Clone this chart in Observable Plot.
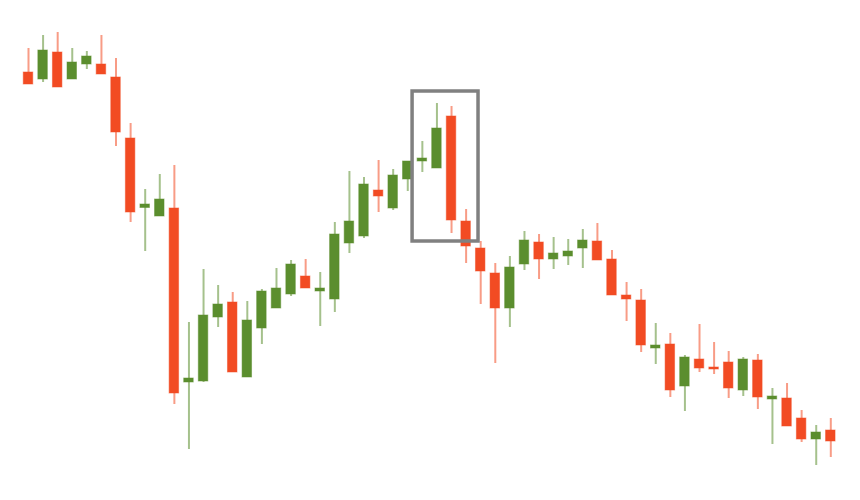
<!DOCTYPE html>
<html>
<head>
<meta charset="utf-8">
<script src="https://cdn.jsdelivr.net/npm/d3@7"></script>
<script src="https://cdn.jsdelivr.net/npm/@observablehq/plot@0.6"></script>
<style>
  html, body { margin: 0; padding: 0; background: #fff; }
  #chart svg { display: block; }
</style>
</head>
<body>
<div id="chart"></div>
<script>
// Candle values (arbitrary price units)
const open  = [428,421,448,421,436,436,423,362,292.5,284,292,118,119,183,198,123,172,192,206,224,209,201,257,264,310,292,321,339,332,384,279,252,227,192,236,258,241,244,252,259,241,205,200,152,156,114,141,133,138,110,140,101,102,82,61,70];
const close = [416,450,413,438,444,426,368,288,296,301,107,122,185,196,128,180,209,212,236,212,212,266,279,316,304,325,339,342,372,280,254,229,192,233,260,241,247,249,260,240,205,201,155,155,110,143,132,131,112,141,103,104,74,61,68,59];
const high  = [452,465,468,452,449,465,442,377,311,326,335,178,231,215,208,199,211,232,240,241,228,278,329,323,340,331,339,359,397,394,291,259,237,244,269,266,263,261,271,277,250,218,211,177,167,145,176,158,149,143,146,112,117,90,75,82];
const low   = [416,418,413,421,431,426,354,278,249,284,96,51,118,173,128,123,156,192,204,212,174,188,247,262,288,290,309,328,332,267,237,196,137,173,230,221,231,235,232,240,205,179,148,136,103,89,128,126,102,104,91,56,74,58,35,43];
// Highlighted region (candle-index span and price span)
const highlight = [{from: 26.33, to: 30.85, top: 409, bottom: 259}];

const candles = open.map((o, i) => ({i, open: o, close: close[i], high: high[i], low: low[i]}));
const up = "#5b8e2e", down = "#f24b23";
const col = d => d.close >= d.open ? up : down;
const half = 0.325;

const chart = Plot.plot({
  width: 860,
  height: 500,
  marginTop: 0,
  marginBottom: 0,
  marginLeft: 28,
  marginRight: 29.7,
  x: {domain: [0, 55], axis: null},
  y: {domain: [0, 500], axis: null},
  marks: [
    Plot.ruleX(candles, {x: "i", y1: "low", y2: "high", stroke: col, strokeWidth: 2, strokeOpacity: 0.55}),
    Plot.rect(candles, {
      x1: d => d.i - half, x2: d => d.i + half,
      y1: d => Math.min(d.open, d.close), y2: d => Math.max(d.open, d.close),
      fill: col, stroke: col, strokeOpacity: 0.5, strokeWidth: 1
    }),
    Plot.rect(highlight, {x1: "from", x2: "to", y1: "bottom", y2: "top", fill: "none", stroke: "#808080", strokeWidth: 3.5})
  ]
});
document.getElementById("chart").appendChild(chart);
</script>
</body>
</html>
